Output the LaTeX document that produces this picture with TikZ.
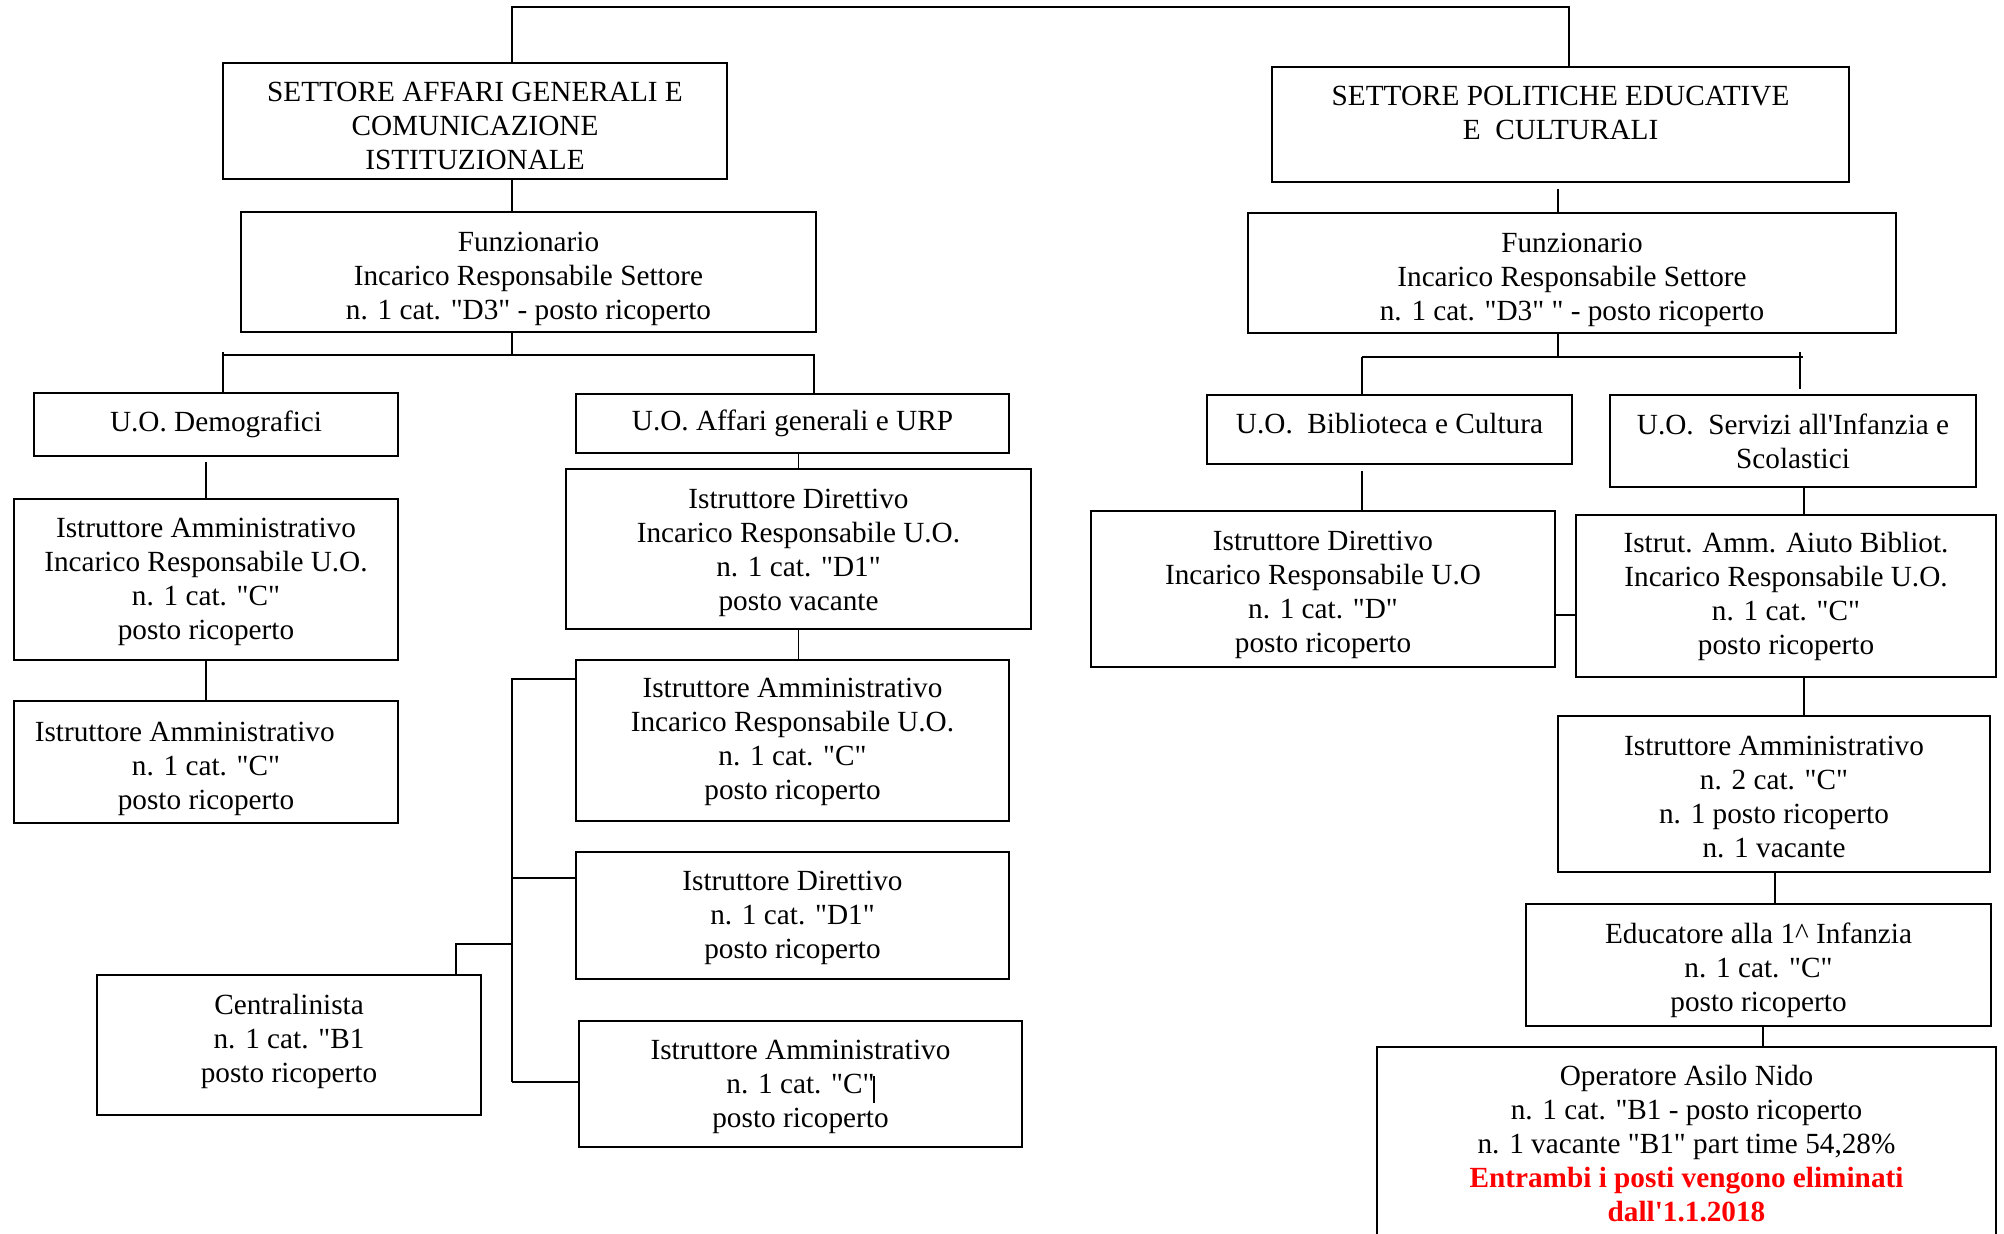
\documentclass[tikz,border=0pt]{standalone}
\usepackage{fontspec}
\setmainfont{Liberation Serif}[Ligatures=TeXReset]
\usepackage{xcolor}
\usepackage{tikz}
\tikzstyle{block} = [rectangle, draw=black, line width=1pt, align=center, inner sep=0pt, font=\fontsize{11.7}{13.6}\selectfont]
\tikzstyle{linea} = [line width=0.7pt]
\tikzstyle{lineaspessa} = [line width=1.1pt]
% spinge in basso il testo delle caselle
\newcommand{\alza}[1]{\rule{0pt}{#1}}

\begin{document}
\begin{tikzpicture}[x=0.4pt, y=-0.4pt]
\useasboundingbox (0,0) rectangle (2004,1233);

% Settore affari generali
\node (affgen) [block, minimum width=201.6pt, minimum height=46.4pt] at (475,121) {\alza{12.1pt}SETTORE AFFARI GENERALI E\\COMUNICAZIONE\\ISTITUZIONALE};
\node (funzaff) [block, minimum width=230pt, minimum height=48pt] at (528.5,272) {\alza{13.6pt}Funzionario\\Incarico Responsabile Settore\\n. 1 cat. "D3" - posto ricoperto};

\node (demo) [block, minimum width=145.6pt, minimum height=25.2pt] at (216,424.5) {U.O. Demografici};
\node (urp) [block, minimum width=173.2pt, minimum height=23.6pt] at (792.5,423.5) {U.O. Affari generali e URP};

\node (iademo) [block, minimum width=153.6pt, minimum height=64.4pt] at (206,579.5) {\alza{10pt}Istruttore Amministrativo\\Incarico Responsabile U.O.\\n. 1 cat. "C"\\posto ricoperto};
\node (iademo2) [block, minimum width=153.6pt, minimum height=48.8pt] at (206,762) {\alza{13.1pt}Istruttore Amministrativo\hspace*{17pt}\\n. 1 cat. "C"\\posto ricoperto};

\node (idurp) [block, minimum width=186pt, minimum height=64pt] at (798.5,549) {\alza{11.1pt}Istruttore Direttivo\\Incarico Responsabile U.O.\\n. 1 cat. "D1"\\posto vacante};
\node (iaurp) [block, minimum width=173.2pt, minimum height=64.4pt] at (792.5,740.5) {\alza{9pt}Istruttore Amministrativo\\Incarico Responsabile U.O.\\n. 1 cat. "C"\\posto ricoperto};
\node (idurp2) [block, minimum width=173.2pt, minimum height=50.8pt] at (792.5,915.5) {\alza{10pt}Istruttore Direttivo\\n. 1 cat. "D1"\\posto ricoperto};
\node (centr) [block, minimum width=153.6pt, minimum height=56pt] at (289,1045) {Centralinista\\n. 1 cat. "B1\\posto ricoperto\rule[-5.5pt]{0pt}{5.5pt}};
\node (iaurp2) [block, minimum width=177.2pt, minimum height=50.4pt] at (800.5,1084) {\alza{10pt}Istruttore Amministrativo\\n. 1 cat. "C"\kern-0.6pt\rule[-4pt]{0.6pt}{10.8pt}\\posto ricoperto};

% Settore politiche educative
\node (poledu) [block, minimum width=230.8pt, minimum height=46pt] at (1560.5,124.5) {\alza{11.6pt}SETTORE POLITICHE EDUCATIVE\\E\ \ CULTURALI\\\mbox{}};
\node (funzpol) [block, minimum width=259.2pt, minimum height=48pt] at (1572,273) {\alza{13.1pt}Funzionario\\Incarico Responsabile Settore\\n. 1 cat. "D3" " - posto ricoperto};

\node (bibl) [block, minimum width=146pt, minimum height=27.6pt, text depth=5.2pt] at (1389.5,429.5) {U.O.\ \ Biblioteca e Cultura};
\node (infanzia) [block, minimum width=146.4pt, minimum height=36.8pt] at (1793,441) {U.O.\ \ Servizi all'Infanzia e\\Scolastici};

\node (idbibl) [block, minimum width=185.6pt, minimum height=62.4pt] at (1323,589) {\alza{12.1pt}Istruttore Direttivo\\Incarico Responsabile U.O\\n. 1 cat. "D"\\posto ricoperto};
\node (aiuto) [block, minimum width=168pt, minimum height=64.8pt] at (1786,596) {Istrut. Amm. Aiuto Bibliot.\\Incarico Responsabile U.O.\\n. 1 cat. "C"\\posto ricoperto};
\node (iainf) [block, minimum width=172.8pt, minimum height=62.4pt] at (1774,794) {\alza{10pt}Istruttore Amministrativo\\n. 2 cat. "C"\\n. 1 posto ricoperto\\n. 1 vacante};
\node (educ) [block, minimum width=186pt, minimum height=48.8pt] at (1758.5,965) {\alza{12.1pt}Educatore alla 1\textasciicircum\ Infanzia\\n. 1 cat. "C"\\posto ricoperto};
\node (asilo) [block, minimum width=247.6pt, minimum height=76.4pt] at (1686.5,1142.5) {\alza{9pt}Operatore Asilo Nido\\n. 1 cat. "B1 - posto ricoperto\\n. 1 vacante "B1" part time 54,28\%\\\textcolor{red}{\bfseries Entrambi i posti vengono eliminati}\\\textcolor{red}{\bfseries dall'1.1.2018}};

% Punti di raccordo
\coordinate (tA) at (512,7);
\coordinate (tB) at (1569,7);
\coordinate (forkA) at (512,355);
\coordinate (dA) at (223,355);
\coordinate (uA) at (814,355);
\coordinate (bA) at (512,679);
\coordinate (bC) at (512,878);
\coordinate (bD) at (512,944);
\coordinate (bB) at (512,1082);
\coordinate (cA) at (456,944);
\coordinate (forkB) at (1558,357);
\coordinate (bL) at (1362,357);
\coordinate (bR) at (1800,357);
\coordinate (asseR) at (1804,600);
\coordinate (asseE) at (1775,890);
\coordinate (asseN) at (1763,1036);

% Collegamenti
\draw [linea] (affgen.north -| tA) -- (tA) -- (tB) -- (poledu.north -| tB);
\draw [linea] (affgen.south -| tA) -- (funzaff.north -| tA);
\draw [linea] (funzaff.south -| forkA) -- (forkA);
\draw [linea] (demo.north -| dA) -- ([yshift=1.2pt]dA);
\draw [linea] (dA) -- (uA) -- (urp.north -| uA);

\draw [linea] ([yshift=-2pt]demo.south -| iademo) -- (iademo);
\draw [linea] (iademo) -- (iademo2);
\draw [linea] (urp.south -| idurp) -- (idurp);
\draw [linea] (idurp) -- (idurp.south |- iaurp.north);

\draw [linea] (iaurp.west |- bA) -- (bA) -- (bB);
\draw [lineaspessa] (bC) -- (idurp2.west |- bC);
\draw [lineaspessa] (bB) -- (iaurp2.west |- bB);
\draw [lineaspessa] (bD) -- (cA) -- (centr.north -| cA);

\draw [linea] ([yshift=-2.4pt]poledu.south -| forkB) -- (funzpol.north -| forkB);
\draw [linea] (funzpol.south -| forkB) -- (forkB);
\draw [linea] (bL) -- ([xshift=1.2pt]bR);
\draw [linea] (bL) -- (bibl.north -| bL);
\draw [linea] ([yshift=2pt]bR) -- ([yshift=2pt]infanzia.north -| bR);
\draw [linea] ([yshift=-2.4pt]bibl.south -| bL) -- (idbibl.north -| bL);
\draw [linea] (infanzia.south -| asseR) -- (aiuto.north -| asseR);
\draw [lineaspessa] ([yshift=-10.4pt]idbibl.east) -- ([yshift=-10.4pt]idbibl.east -| aiuto.west);
\draw [linea] (aiuto.south -| asseR) -- (iainf.north -| asseR);
\draw [linea] (iainf.south -| asseE) -- (educ.north -| asseE);
\draw [linea] (educ.south -| asseN) -- (asilo.north -| asseN);

\end{tikzpicture}
\end{document}
